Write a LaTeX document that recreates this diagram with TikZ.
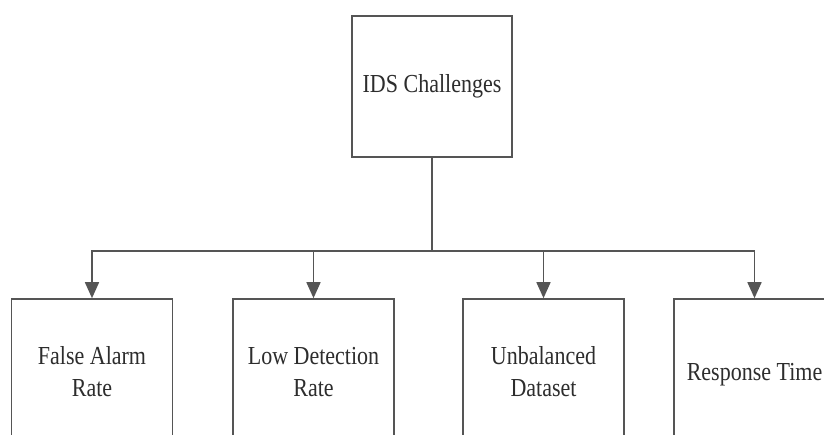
\documentclass[tikz,border=0pt]{standalone}
\usepackage{fontspec}
\setmainfont{Liberation Serif}
\usetikzlibrary{arrows.meta}
\definecolor{linegray}{RGB}{85,85,85}
\definecolor{textgray}{RGB}{45,45,45}
\tikzset{
  box/.style={draw=linegray, line width=1.6pt, rectangle, fill=white, align=center,
    text=textgray, font=\fontsize{22}{27}\selectfont, inner sep=0pt},
  topbox/.style={box, minimum width=160pt, minimum height=141pt},
  leafbox/.style={box, minimum width=161pt, minimum height=150pt},
  conn/.style={draw=linegray, line width=1.6pt},
  arr/.style={conn, -{Triangle[length=16pt,width=14pt]}}
}
\newcommand{\tallt}[1]{\scalebox{1}[1.18]{\begin{tabular}{@{}c@{}}#1\end{tabular}}}
\begin{document}
\begin{tikzpicture}[x=1pt,y=-1pt]
\clip (0,0) rectangle (824,435);
\fill[white] (0,0) rectangle (824,435);
\node[topbox] (top) at (432,86.5) {\tallt{IDS Challenges}};
\node[leafbox] (b1) at (92,374) {\tallt{False Alarm\\Rate}};
\node[leafbox] (b2) at (313.5,374) {\tallt{Low Detection\\Rate}};
\node[leafbox] (b3) at (543.5,374) {\tallt{Unbalanced\\Dataset}};
\node[leafbox] (b4) at (754.5,374) {\tallt{Response Time}};
\coordinate (j) at (top.south |- 0,251);
\draw[conn] (top.south) -- (j);
\draw[arr] (j) -| (b1.north);
\draw[arr] (j) -| (b2.north);
\draw[arr] (j) -| (b3.north);
\draw[arr] (j) -| (b4.north);
\end{tikzpicture}
\end{document}
